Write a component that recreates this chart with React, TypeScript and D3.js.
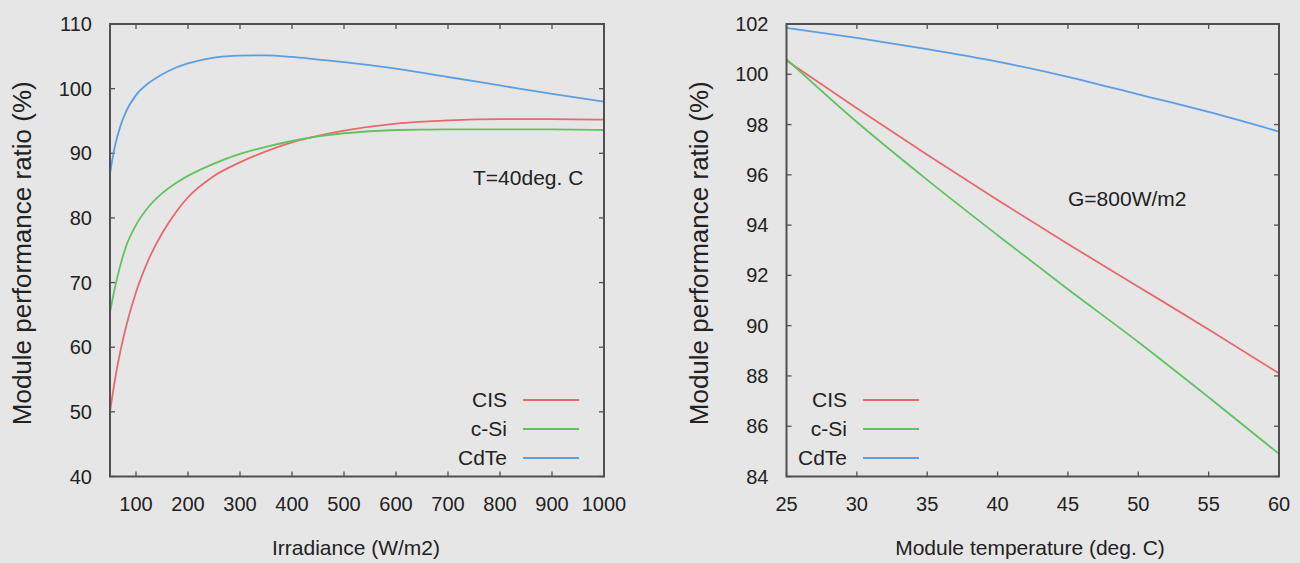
import React from "react";
import * as d3 from "d3";

// ---- Data ----
const irradiance = [50, 55, 60, 70, 80, 100, 125, 150, 175, 200, 250, 300, 350, 400, 450, 500, 600, 700, 800, 900, 1000];
const cisIrr = [50.0, 52.7, 55.2, 59.4, 62.9, 68.5, 73.7, 77.6, 80.7, 83.2, 86.5, 88.6, 90.3, 91.7, 92.7, 93.5, 94.6, 95.1, 95.3, 95.3, 95.2];
const csiIrr = [65.4, 67.5, 69.4, 72.7, 75.4, 78.9, 81.8, 83.8, 85.3, 86.5, 88.4, 89.9, 91.0, 91.9, 92.6, 93.1, 93.6, 93.7, 93.7, 93.7, 93.6];
const cdteIrr = [86.8, 89.3, 91.3, 94.2, 96.3, 99.0, 100.9, 102.2, 103.2, 103.9, 104.8, 105.1, 105.15, 104.9, 104.5, 104.1, 103.1, 101.8, 100.5, 99.2, 98.0];

const temperature = [25, 30, 35, 40, 45, 50, 55, 60];
const cisTemp = [100.55, 98.65, 96.8, 95.0, 93.25, 91.55, 89.85, 88.1];
const csiTemp = [100.6, 98.1, 95.8, 93.6, 91.45, 89.35, 87.15, 84.9];
const cdteTemp = [101.85, 101.45, 101.0, 100.5, 99.9, 99.2, 98.5, 97.72];

const irrXTicks = [100, 200, 300, 400, 500, 600, 700, 800, 900, 1000];
const irrYTicks = [40, 50, 60, 70, 80, 90, 100, 110];
const tempXTicks = [25, 30, 35, 40, 45, 50, 55, 60];
const tempYTicks = [84, 86, 88, 90, 92, 94, 96, 98, 100, 102];

const seriesNames = ["CIS", "c-Si", "CdTe"];
const seriesColors = ["#e8696d", "#5fc45f", "#5a9ee6"];

const FONT = "'Liberation Sans', Arial, Helvetica, sans-serif";
const TEXT = "#222";
const AXIS = "#505050";

type PanelProps = {
  left: number; right: number; top: number; bottom: number;
  xDomain: [number, number]; yDomain: [number, number];
  xTicks: number[]; yTicks: number[];
  xs: number[]; series: number[][];
  xLabel: string; xLabelX: number;
  note: string; noteX: number; noteY: number;
  legendTextEnd: number;
};

function Panel(p: PanelProps) {
  const x = d3.scaleLinear().domain(p.xDomain).range([p.left, p.right]);
  const y = d3.scaleLinear().domain(p.yDomain).range([p.bottom, p.top]);
  const line = d3.line<number>().x((_, i) => x(p.xs[i])).y((d) => y(d)).curve(d3.curveMonotoneX);
  const tl = 5;
  const legendRows = [400, 429, 458];
  return (
    <g>
      <defs>
        <clipPath id={`clip${p.left}`}>
          <rect x={p.left} y={p.top} width={p.right - p.left} height={p.bottom - p.top} />
        </clipPath>
      </defs>
      {p.xTicks.map((t) => (
        <g key={"xt" + t}>
          <line x1={x(t)} x2={x(t)} y1={p.bottom} y2={p.bottom - tl} stroke={AXIS} strokeWidth={1.3} />
          <line x1={x(t)} x2={x(t)} y1={p.top} y2={p.top + tl} stroke={AXIS} strokeWidth={1.3} />
          <text x={x(t)} y={511} textAnchor="middle" fontSize={20} fontFamily={FONT} fill={TEXT}>{t}</text>
        </g>
      ))}
      {p.yTicks.map((t) => (
        <g key={"yt" + t}>
          <line x1={p.left} x2={p.left + tl} y1={y(t)} y2={y(t)} stroke={AXIS} strokeWidth={1.3} />
          <line x1={p.right} x2={p.right - tl} y1={y(t)} y2={y(t)} stroke={AXIS} strokeWidth={1.3} />
          <text x={p.left - 18} y={y(t) + 7} textAnchor="end" fontSize={20} fontFamily={FONT} fill={TEXT}>{t}</text>
        </g>
      ))}
      <g clipPath={`url(#clip${p.left})`}>
        {p.series.map((s, i) => (
          <path key={i} d={line(s) || ""} fill="none" stroke={seriesColors[i]} strokeWidth={1.8} />
        ))}
      </g>
      <rect x={p.left} y={p.top} width={p.right - p.left} height={p.bottom - p.top} fill="none" stroke={AXIS} strokeWidth={2} />
      <text x={p.xLabelX} y={555} textAnchor="middle" fontSize={21} fontFamily={FONT} fill={TEXT}>{p.xLabel}</text>
      <text
        transform={`translate(${p.left - 79},${(p.top + p.bottom) / 2 + 3}) rotate(-90)`}
        textAnchor="middle" fontSize={26} fontFamily={FONT} fill={TEXT}
        textLength={344} lengthAdjust="spacingAndGlyphs"
      >Module performance ratio (%)</text>
      <text x={p.noteX} y={p.noteY} fontSize={21} fontFamily={FONT} fill={TEXT}>{p.note}</text>
      {seriesNames.map((n, i) => (
        <g key={n}>
          <text x={p.legendTextEnd} y={legendRows[i] + 7} textAnchor="end" fontSize={21} fontFamily={FONT} fill={TEXT}>{n}</text>
          <line x1={p.legendTextEnd + 16} x2={p.legendTextEnd + 72} y1={legendRows[i]} y2={legendRows[i]} stroke={seriesColors[i]} strokeWidth={2.2} />
        </g>
      ))}
    </g>
  );
}

export default function App() {
  return (
    <div style={{ position: "absolute", left: 0, top: 0 }}>
      <svg width={1300} height={563} style={{ display: "block", background: "#e6e6e6" }}>
        <rect x={0} y={0} width={1300} height={563} fill="#e6e6e6" />
        <Panel
          left={110} right={604} top={24} bottom={476.5}
          xDomain={[50, 1000]} yDomain={[40, 110]}
          xTicks={irrXTicks} yTicks={irrYTicks}
          xs={irradiance} series={[cisIrr, csiIrr, cdteIrr]}
          xLabel="Irradiance (W/m2)" xLabelX={356}
          note="T=40deg. C" noteX={473} noteY={185}
          legendTextEnd={507}
        />
        <Panel
          left={786.5} right={1279} top={24} bottom={476.5}
          xDomain={[25, 60]} yDomain={[84, 102]}
          xTicks={tempXTicks} yTicks={tempYTicks}
          xs={temperature} series={[cisTemp, csiTemp, cdteTemp]}
          xLabel="Module temperature (deg. C)" xLabelX={1030}
          note="G=800W/m2" noteX={1068} noteY={206}
          legendTextEnd={847}
        />
      </svg>
    </div>
  );
}
